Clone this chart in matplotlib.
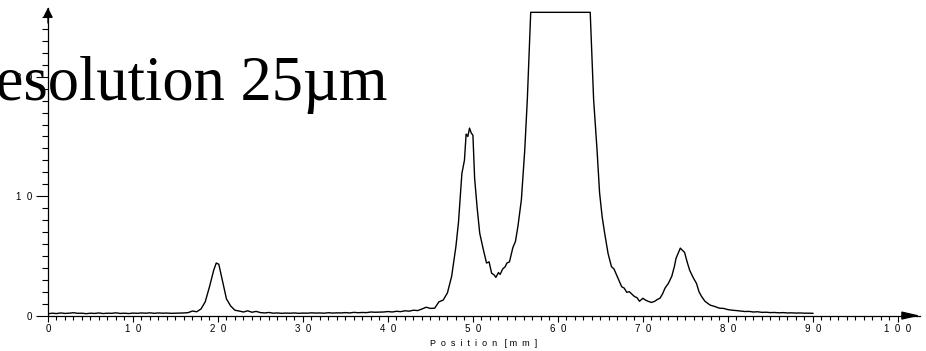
import numpy as np
import matplotlib
matplotlib.use("Agg")
import matplotlib.pyplot as plt
from matplotlib.ticker import FixedLocator

plt.rcParams['font.family'] = 'Liberation Sans'

# profile: position [mm], signal
pos = [0.0, 0.5, 1.0, 1.5, 2.0, 2.5, 3.0, 3.5, 4.0, 4.5, 5.0, 5.5, 6.0, 6.5, 7.0, 7.5,
       8.0, 8.5, 9.0, 9.5, 10.0, 10.5, 11.0, 11.5, 12.0, 12.5, 13.0, 13.5, 14.0, 14.5,
       15.0, 15.5, 16.0, 16.5, 17.0, 17.5, 18.0, 18.5, 19.0, 19.5, 19.8, 20.1, 20.5,
       21.0, 21.5, 22.0, 22.5, 23.0, 23.5, 24.0, 24.5, 25.0, 25.5, 26.0, 26.5, 27.0,
       27.5, 28.0, 28.5, 29.0, 29.5, 30.0, 30.5, 31.0, 31.5, 32.0, 32.5, 33.0, 33.5,
       34.0, 34.5, 35.0, 35.5, 36.0, 36.5, 37.0, 37.5, 38.0, 38.5, 39.0, 39.5, 40.0,
       40.5, 41.0, 41.5, 42.0, 42.5, 43.0, 43.5, 44.0, 44.5, 45.0, 45.5, 46.0, 46.5,
       47.0, 47.5, 48.0, 48.3, 48.7, 49.0, 49.2, 49.4, 49.6, 49.8, 50.0, 50.2, 50.5,
       50.8, 51.2, 51.6, 51.9, 52.2, 52.5, 52.7, 53.0, 53.2, 53.5, 53.8, 54.0, 54.3,
       54.7, 55.0, 55.3, 55.7, 56.1, 56.4, 56.7, 56.8, 63.8, 64.2, 64.6, 64.9, 65.2,
       65.5, 65.9, 66.3, 66.6, 66.9, 67.2, 67.5, 67.8, 68.1, 68.4, 68.7, 69.0, 69.3,
       69.6, 70.0, 70.3, 70.6, 71.0, 71.4, 71.7, 72.0, 72.3, 72.6, 73.0, 73.4, 73.7,
       73.9, 74.2, 74.4, 74.6, 74.9, 75.2, 75.5, 75.9, 76.3, 76.6, 76.9, 77.3, 77.9,
       78.5, 79.0, 79.5, 80.0, 80.5, 81.0, 81.5, 82.0, 82.5, 83.0, 83.5, 84.0, 84.5,
       85.0, 85.5, 86.0, 86.5, 87.0, 87.5, 88.0, 88.5, 89.0, 89.5, 90.0]
val = [0.15, 0.2, 0.17, 0.22, 0.18, 0.2, 0.24, 0.19, 0.2, 0.16, 0.2, 0.18, 0.22, 0.17, 0.2, 0.19,
       0.23, 0.18, 0.2, 0.17, 0.21, 0.19, 0.22, 0.2, 0.23, 0.19, 0.22, 0.2, 0.21, 0.19,
       0.2, 0.21, 0.22, 0.25, 0.38, 0.32, 0.55, 1.15, 2.4, 3.8, 4.4, 4.3, 3.0,
       1.4, 0.8, 0.45, 0.38, 0.3, 0.4, 0.28, 0.35, 0.25, 0.22, 0.26, 0.2, 0.22,
       0.19, 0.21, 0.2, 0.22, 0.19, 0.21, 0.2, 0.23, 0.21, 0.22, 0.2, 0.24, 0.21,
       0.23, 0.22, 0.25, 0.22, 0.27, 0.24, 0.26, 0.25, 0.3, 0.28, 0.29, 0.3, 0.34,
       0.3, 0.36, 0.33, 0.4, 0.37, 0.45, 0.42, 0.55, 0.7, 0.6, 0.62, 1.15, 1.3,
       1.9, 3.3, 5.8, 7.8, 11.9, 13.0, 15.2, 15.0, 15.7, 15.3, 15.1, 11.5, 9.0,
       6.9, 5.6, 4.4, 4.5, 3.55, 3.4, 3.2, 3.6, 3.45, 3.9, 4.1, 4.4, 4.5,
       5.7, 6.2, 7.5, 9.7, 13.9, 18.1, 23.7, 25.4, 25.4, 18.1, 13.9, 10.3, 8.3,
       6.9, 5.2, 4.1, 3.9, 3.4, 2.9, 2.42, 2.3, 1.95, 2.0, 1.8, 1.6, 1.5,
       1.2, 1.45, 1.3, 1.2, 1.1, 1.2, 1.35, 1.45, 1.8, 2.3, 2.7, 3.3, 4.1,
       4.8, 5.3, 5.65, 5.5, 5.3, 4.5, 3.8, 3.2, 2.7, 2.0, 1.6, 1.2, 0.88,
       0.75, 0.62, 0.6, 0.5, 0.45, 0.42, 0.38, 0.34, 0.35, 0.3, 0.32, 0.27, 0.28,
       0.25, 0.26, 0.23, 0.25, 0.22, 0.23, 0.21, 0.22, 0.2, 0.2, 0.19]

x_major = [0, 10, 20, 30, 40, 50, 60, 70, 80, 90, 100]
x_labels = ["0", "1  0", "2  0", "3  0", "4  0", "5  0", "6  0", "7  0", "8  0", "9  0", "1  0  0"]
y_major = [0, 10, 20]
y_labels = ["0", "1  0", "2  0"]

fig = plt.figure(figsize=(9.26, 3.51), dpi=100)
ax = fig.add_axes([0.0518, 0.1009, 0.9417, 0.8776])

ax.plot(pos, val, color='black', lw=1.0)

ax.set_xlim(0, 102.6)
ax.set_ylim(0, 25.8)

for s in ['top', 'right']:
    ax.spines[s].set_visible(False)
for s in ['left', 'bottom']:
    ax.spines[s].set_linewidth(0.9)

ax.xaxis.set_major_locator(FixedLocator(x_major))
ax.xaxis.set_minor_locator(FixedLocator(np.arange(0, 101, 1)))
ax.set_xticklabels(x_labels)
ax.yaxis.set_major_locator(FixedLocator(y_major))
ax.yaxis.set_minor_locator(FixedLocator(np.arange(0, 26, 1)))
ax.set_yticklabels(y_labels)

ax.tick_params(axis='x', which='major', direction='out', length=4, width=0.8,
               labelsize=7, pad=2, colors='black')
ax.tick_params(axis='x', which='minor', direction='out', length=2.8, width=0.8)
ax.tick_params(axis='y', which='major', direction='out', length=8.6, width=0.8,
               labelsize=7, pad=3)
ax.tick_params(axis='y', which='minor', direction='out', length=4.3, width=0.8)

ax.set_xlabel("P  o  s  i  t  i  o  n   [ m  m  ]", fontsize=6.5, labelpad=4)

# axis arrows
ax.annotate('', xy=(102.6, 0), xytext=(100.5, 0), xycoords='data',
            arrowprops=dict(arrowstyle='-|>,head_length=1.1,head_width=0.25',
                            color='black', lw=0.9, shrinkA=0, shrinkB=0),
            annotation_clip=False)
ax.annotate('', xy=(0, 25.8), xytext=(0, 24.5), xycoords='data',
            arrowprops=dict(arrowstyle='-|>,head_length=0.6,head_width=0.3',
                            color='black', lw=0.9, shrinkA=0, shrinkB=0),
            annotation_clip=False)

fig.text(-46 / 926, 1 - 100 / 351, "Resolution 25µm", family='Liberation Serif',
         fontsize=45, ha='left', va='baseline', color='black')

fig.savefig("out.png", dpi=100)
